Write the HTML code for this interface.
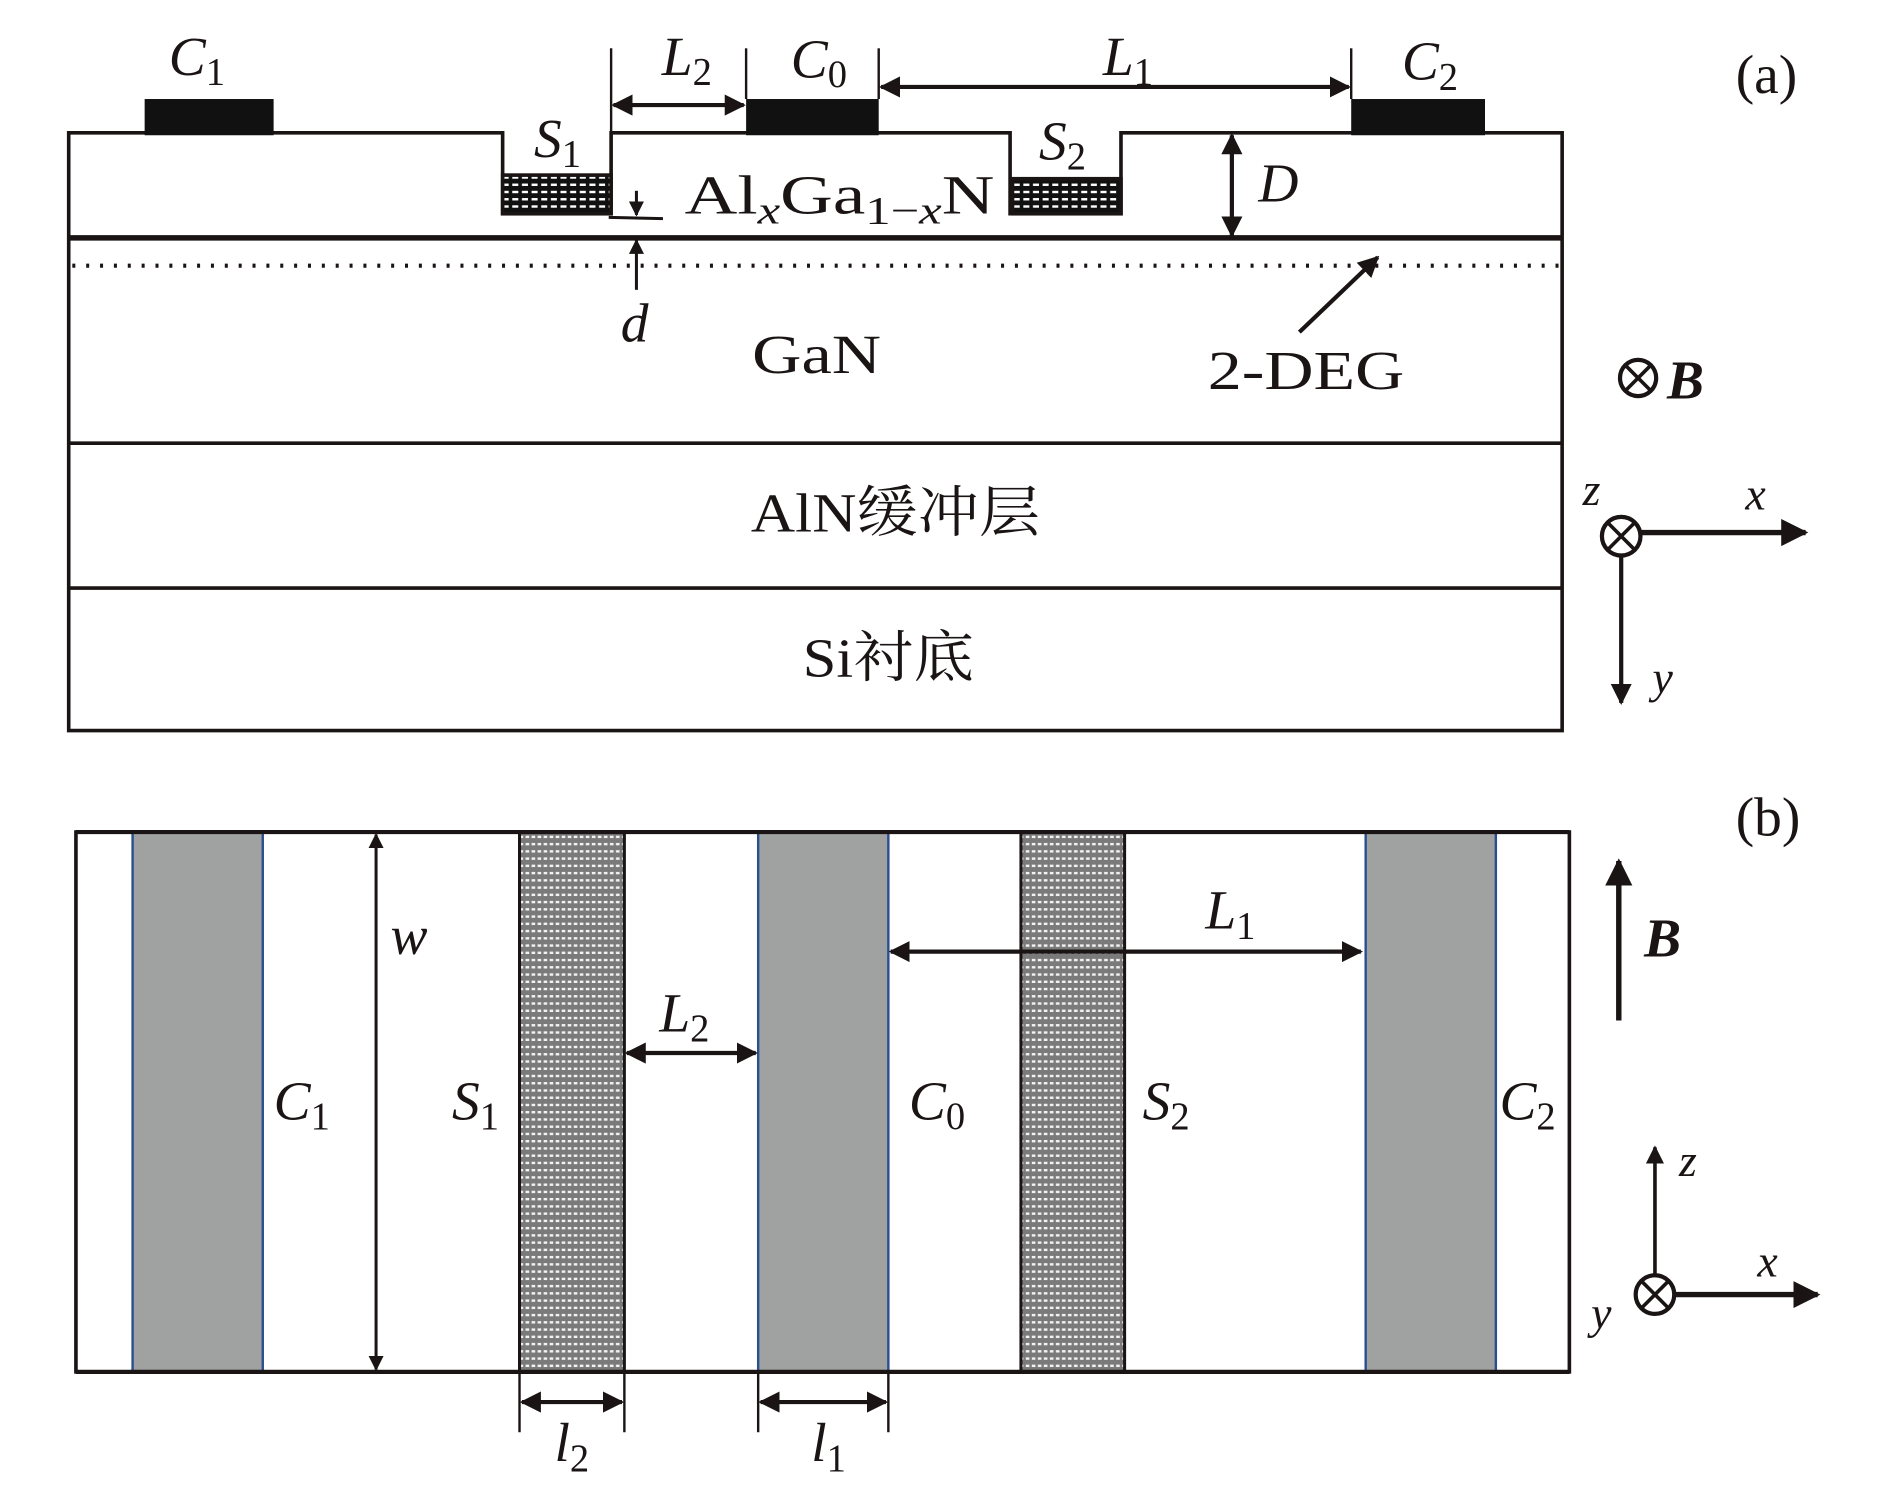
<!DOCTYPE html>
<html><head><meta charset="utf-8"><style>
html,body{margin:0;padding:0;background:#fff;}
svg{display:block;}
text{font-family:"Liberation Serif","Noto Serif CJK SC",serif;fill:#1a1414;}
.i{font-style:italic;}
</style></head><body>
<svg width="1890" height="1489" viewBox="0 0 1568 1233" preserveAspectRatio="none" xmlns="http://www.w3.org/2000/svg">
<defs>
<pattern id="hat" width="8" height="6" patternUnits="userSpaceOnUse">
<rect width="8" height="6" fill="#111"/><rect x="1" y="2" width="5" height="2" fill="#fff"/>
</pattern>
<pattern id="dot" width="5" height="6" patternUnits="userSpaceOnUse">
<rect width="5" height="6" fill="#7a7a7a"/><rect x="1" y="2" width="3" height="2" fill="#f2f2f2"/>
</pattern>
<marker id="ah" viewBox="0 0 10 10" refX="9" refY="5" markerWidth="5" markerHeight="5" orient="auto-start-reverse"><path d="M0,0 L10,5 L0,10 z" fill="#1a1414"/></marker>
</defs>
<g stroke="#1a1414" fill="none">
<path d="M57,110 H417 V177 H507 V110 H838 V177 H930 V110 H1296 V605 H57 Z" stroke-width="3"/>
<rect x="417" y="145" width="90" height="32" fill="url(#hat)" stroke-width="3"/>
<rect x="840" y="148" width="90" height="29" fill="url(#hat)" stroke-width="3"/>
<line x1="57" y1="197" x2="1296" y2="197" stroke-width="4.5"/>
<line x1="60" y1="220" x2="1294" y2="220" stroke-width="3.5" stroke-dasharray="2.5 9"/>
<line x1="57" y1="367" x2="1296" y2="367" stroke-width="3"/>
<line x1="57" y1="487" x2="1296" y2="487" stroke-width="3"/>
<line x1="507" y1="40" x2="507" y2="110" stroke-width="2"/>
<line x1="619" y1="40" x2="619" y2="82" stroke-width="2"/>
<line x1="729" y1="40" x2="729" y2="82" stroke-width="2"/>
<line x1="1121" y1="40" x2="1121" y2="82" stroke-width="2"/>
<line x1="509" y1="87" x2="617" y2="87" stroke-width="3.5" marker-start="url(#ah)" marker-end="url(#ah)"/>
<line x1="731" y1="72" x2="1119" y2="72" stroke-width="3.5" marker-start="url(#ah)" marker-end="url(#ah)"/>
<line x1="1022" y1="112" x2="1022" y2="195" stroke-width="3.5" marker-start="url(#ah)" marker-end="url(#ah)"/>
<line x1="528" y1="158" x2="528" y2="178" stroke-width="2.5" marker-end="url(#ah)"/>
<line x1="505" y1="180" x2="550" y2="181" stroke-width="2.5"/>
<line x1="528" y1="240" x2="528" y2="199" stroke-width="2.5" marker-end="url(#ah)"/>
<line x1="1078" y1="275" x2="1143" y2="213" stroke-width="3.5" marker-end="url(#ah)"/>
<circle cx="1359" cy="313" r="15" stroke-width="3.5"/>
<path d="M1348,302 L1370,324 M1370,302 L1348,324" stroke-width="3"/>
<circle cx="1345" cy="444" r="16" stroke-width="3.5"/>
<path d="M1334,433 L1356,455 M1356,433 L1334,455" stroke-width="3"/>
<line x1="1361" y1="441" x2="1498" y2="441" stroke-width="4.5" marker-end="url(#ah)"/>
<line x1="1345" y1="460" x2="1345" y2="582" stroke-width="3.5" marker-end="url(#ah)"/>
</g>
<rect x="120" y="82" width="107" height="30" fill="#111"/>
<rect x="619" y="82" width="110" height="30" fill="#111"/>
<rect x="1121" y="82" width="111" height="30" fill="#111"/>
<g font-size="46">
<text x="140" y="62" class="i">C<tspan font-size="32" dy="8" font-style="normal">1</tspan></text>
<text x="549" y="62" class="i">L<tspan font-size="32" dy="8" font-style="normal">2</tspan></text>
<text x="656" y="64" class="i">C<tspan font-size="32" dy="8" font-style="normal">0</tspan></text>
<text x="915" y="62" class="i">L<tspan font-size="32" dy="8" font-style="normal">1</tspan></text>
<text x="1163" y="66" class="i">C<tspan font-size="32" dy="8" font-style="normal">2</tspan></text>
<text x="1440" y="77">(a)</text>
<text x="443" y="130" class="i">S<tspan font-size="32" dy="8" font-style="normal">1</tspan></text>
<text x="862" y="132" class="i">S<tspan font-size="32" dy="8" font-style="normal">2</tspan></text>
<text x="568" y="177" textLength="257" lengthAdjust="spacingAndGlyphs">Al<tspan class="i" font-size="32" dy="8">x</tspan><tspan dy="-8">Ga</tspan><tspan font-size="32" dy="8">1−<tspan class="i">x</tspan></tspan><tspan dy="-8">N</tspan></text>
<text x="1044" y="167" class="i">D</text>
<text x="515" y="283" class="i">d</text>
<text x="624" y="309" textLength="107" lengthAdjust="spacingAndGlyphs">GaN</text>
<text x="1002" y="322" textLength="163" lengthAdjust="spacingAndGlyphs">2-DEG</text>
<text x="1383" y="330" class="i" font-weight="bold">B</text>
<text x="623" y="440" textLength="240" lengthAdjust="spacingAndGlyphs">AlN缓冲层</text>
<text x="666" y="560" textLength="142" lengthAdjust="spacingAndGlyphs">Si衬底</text>
<text x="1313" y="418" class="i" font-size="38">z</text>
<text x="1448" y="422" class="i" font-size="38">x</text>
<text x="1371" y="574" class="i" font-size="38">y</text>
</g>
<rect x="63" y="689" width="1239" height="447" fill="#fff" stroke="#1a1414" stroke-width="3"/>
<g stroke="#2a4f8f" stroke-width="2" fill="#a0a2a1">
<rect x="110" y="689" width="108" height="447"/>
<rect x="629" y="689" width="108" height="447"/>
<rect x="1133" y="689" width="108" height="447"/>
</g>
<g stroke="#1a1414" stroke-width="2.5" fill="url(#dot)">
<rect x="431" y="689" width="87" height="447"/>
<rect x="847" y="689" width="86" height="447"/>
</g>
<g stroke="#1a1414" fill="none">
<line x1="63" y1="689" x2="1302" y2="689" stroke-width="3.5"/>
<line x1="63" y1="1136" x2="1302" y2="1136" stroke-width="3.5"/>
<line x1="312" y1="691" x2="312" y2="1134" stroke-width="2.5" marker-start="url(#ah)" marker-end="url(#ah)"/>
<line x1="739" y1="788" x2="1129" y2="788" stroke-width="3.5" marker-start="url(#ah)" marker-end="url(#ah)"/>
<line x1="520" y1="872" x2="627" y2="872" stroke-width="3.5" marker-start="url(#ah)" marker-end="url(#ah)"/>
<line x1="1343" y1="845" x2="1343" y2="713" stroke-width="4.5" marker-end="url(#ah)"/>
<circle cx="1373" cy="1072" r="16" stroke-width="3.5"/>
<path d="M1362,1061 L1384,1083 M1384,1061 L1362,1083" stroke-width="3"/>
<line x1="1373" y1="1056" x2="1373" y2="950" stroke-width="3" marker-end="url(#ah)"/>
<line x1="1389" y1="1072" x2="1508" y2="1072" stroke-width="4.5" marker-end="url(#ah)"/>
<line x1="431" y1="1136" x2="431" y2="1186" stroke-width="2"/>
<line x1="518" y1="1136" x2="518" y2="1186" stroke-width="2"/>
<line x1="629" y1="1136" x2="629" y2="1186" stroke-width="2"/>
<line x1="737" y1="1136" x2="737" y2="1186" stroke-width="2"/>
<line x1="433" y1="1161" x2="516" y2="1161" stroke-width="3.5" marker-start="url(#ah)" marker-end="url(#ah)"/>
<line x1="631" y1="1161" x2="735" y2="1161" stroke-width="3.5" marker-start="url(#ah)" marker-end="url(#ah)"/>
</g>
<g font-size="46">
<text x="1440" y="692">(b)</text>
<text x="324" y="790" class="i">w</text>
<text x="1000" y="769" class="i">L<tspan font-size="32" dy="8" font-style="normal">1</tspan></text>
<text x="547" y="854" class="i">L<tspan font-size="32" dy="8" font-style="normal">2</tspan></text>
<text x="1364" y="792" class="i" font-weight="bold">B</text>
<text x="227" y="927" class="i">C<tspan font-size="32" dy="8" font-style="normal">1</tspan></text>
<text x="375" y="927" class="i">S<tspan font-size="32" dy="8" font-style="normal">1</tspan></text>
<text x="754" y="927" class="i">C<tspan font-size="32" dy="8" font-style="normal">0</tspan></text>
<text x="948" y="927" class="i">S<tspan font-size="32" dy="8" font-style="normal">2</tspan></text>
<text x="1244" y="927" class="i">C<tspan font-size="32" dy="8" font-style="normal">2</tspan></text>
<text x="1393" y="974" class="i" font-size="38">z</text>
<text x="1458" y="1057" class="i" font-size="38">x</text>
<text x="1320" y="1100" class="i" font-size="38">y</text>
<text x="460" y="1210" class="i">l<tspan font-size="32" dy="8" font-style="normal">2</tspan></text>
<text x="673" y="1210" class="i">l<tspan font-size="32" dy="8" font-style="normal">1</tspan></text>
</g>
</svg>
</body></html>
